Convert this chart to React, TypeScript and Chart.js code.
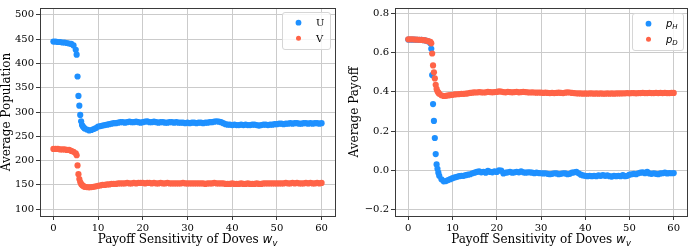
import React, { useEffect, useRef } from "react";
import { Chart, registerables } from "chart.js";

Chart.register(...registerables);

// Payoff sensitivity of doves (x values shared by both panels)
const wv = [
  0, 0.5, 1, 1.5, 2, 2.5, 3, 3.5, 4, 4.5,
  5, 5.2, 5.4, 5.6, 5.8, 6, 6.2, 6.4, 6.6, 6.8, 7,
  7.5, 8, 8.5, 9, 9.5, 10, 10.5, 11, 11.5, 12,
  12.5, 13, 13.5, 14, 14.5, 15, 15.5, 16, 16.5, 17,
  17.5, 18, 18.5, 19, 19.5, 20, 20.5, 21, 21.5, 22,
  22.5, 23, 23.5, 24, 24.5, 25, 25.5, 26, 26.5, 27,
  27.5, 28, 28.5, 29, 29.5, 30, 30.5, 31, 31.5, 32,
  32.5, 33, 33.5, 34, 34.5, 35, 35.5, 36, 36.5, 37,
  37.5, 38, 38.5, 39, 39.5, 40, 40.5, 41, 41.5, 42,
  42.5, 43, 43.5, 44, 44.5, 45, 45.5, 46, 46.5, 47,
  47.5, 48, 48.5, 49, 49.5, 50, 50.5, 51, 51.5, 52,
  52.5, 53, 53.5, 54, 54.5, 55, 55.5, 56, 56.5, 57,
  57.5, 58, 58.5, 59, 59.5, 60,
];

// Average population of U
const popU = [
  445, 445, 444, 444, 443, 443, 442, 441, 440, 437,
  428, 418, 373, 333, 313, 294, 281, 273, 270, 268, 266,
  264, 262, 263, 265, 267, 270, 271, 272, 273, 274,
  275, 276, 277, 277, 278, 279, 279, 278, 279, 280,
  279, 279, 280, 279, 278, 279, 280, 281, 279, 279,
  280, 279, 278, 279, 279, 278, 278, 279, 279, 278,
  279, 278, 278, 278, 277, 278, 277, 278, 278, 277,
  278, 278, 277, 278, 278, 279, 279, 280, 281, 280,
  279, 277, 275, 274, 274, 273, 274, 273, 273, 274,
  273, 274, 273, 273, 274, 274, 273, 272, 273, 274,
  274, 273, 274, 274, 275, 275, 276, 276, 275, 276,
  276, 277, 276, 277, 277, 276, 276, 277, 277, 276,
  277, 276, 277, 277, 276, 277,
];

// Average population of V
const popV = [
  224, 224, 224, 223, 223, 223, 222, 222, 220, 218,
  215, 211, 190, 172, 162, 156, 152, 150, 148, 147, 146,
  145.5, 145, 145.5, 146, 147, 148, 149, 150, 150, 151,
  151, 152, 152, 152, 153, 153, 153, 153, 154, 153,
  153, 154, 153, 154, 154, 154, 153, 154, 154, 153,
  154, 153, 153, 154, 153, 153, 154, 153, 153, 153,
  153, 153, 153, 154, 153, 153, 153, 153, 153, 153,
  153, 153, 153, 152, 153, 153, 153, 154, 153, 153,
  153, 153, 152, 152, 152, 153, 152, 152, 152, 153,
  152, 152, 153, 152, 152, 152, 153, 152, 152, 153,
  153, 153, 153, 153, 153, 153, 153, 153, 153, 154,
  153, 153, 154, 153, 154, 153, 153, 153, 154, 153,
  154, 153, 153, 154, 153, 154,
];

// Average payoff of hawks
const payH = [
  0.667, 0.667, 0.667, 0.667, 0.666, 0.666, 0.665, 0.664, 0.662, 0.658,
  0.648, 0.62, 0.486, 0.338, 0.252, 0.165, 0.083, 0.03, 0.008, -0.012, -0.028,
  -0.046, -0.056, -0.055, -0.05, -0.045, -0.04, -0.036, -0.033, -0.03, -0.028,
  -0.028, -0.025, -0.022, -0.02, -0.015, -0.012, -0.008, -0.005, -0.01, -0.008,
  -0.012, -0.003, -0.008, -0.01, -0.005, -0.008, 0.0, -0.002, -0.016, -0.012,
  -0.01, -0.008, -0.012, -0.01, -0.008, -0.01, -0.005, -0.01, -0.012, -0.01,
  -0.01, -0.012, -0.015, -0.012, -0.014, -0.015, -0.016, -0.015, -0.018, -0.02,
  -0.018, -0.015, -0.016, -0.02, -0.018, -0.015, -0.016, -0.02, -0.018, -0.012,
  -0.01, -0.008, -0.015, -0.022, -0.026, -0.028, -0.03, -0.028, -0.03, -0.028,
  -0.03, -0.026, -0.028, -0.025, -0.028, -0.026, -0.03, -0.032, -0.028, -0.03,
  -0.028, -0.03, -0.025, -0.03, -0.028, -0.022, -0.02, -0.018, -0.02, -0.015,
  -0.012, -0.01, -0.015, -0.008, -0.016, -0.018, -0.015, -0.018, -0.02, -0.016,
  -0.015, -0.012, -0.016, -0.014, -0.015, -0.014,
];

// Average payoff of doves
const payD = [
  0.668, 0.668, 0.668, 0.667, 0.667, 0.666, 0.665, 0.664, 0.662, 0.659,
  0.655, 0.648, 0.596, 0.535, 0.5, 0.469, 0.436, 0.415, 0.403, 0.396, 0.39,
  0.383, 0.379, 0.38, 0.382, 0.384, 0.385, 0.387, 0.388, 0.389, 0.39,
  0.39, 0.391, 0.393, 0.395, 0.396, 0.398, 0.397, 0.399, 0.398, 0.397,
  0.398, 0.4, 0.399, 0.398, 0.399, 0.4, 0.403, 0.401, 0.399, 0.398,
  0.4, 0.399, 0.398, 0.399, 0.4, 0.398, 0.399, 0.4, 0.399, 0.398,
  0.397, 0.398, 0.397, 0.396, 0.397, 0.396, 0.395, 0.396, 0.395, 0.394,
  0.395, 0.394, 0.395, 0.396, 0.395, 0.394, 0.396, 0.398, 0.397, 0.395,
  0.394, 0.393, 0.392, 0.392, 0.391, 0.392, 0.391, 0.392, 0.392, 0.391,
  0.392, 0.391, 0.392, 0.391, 0.391, 0.392, 0.391, 0.392, 0.391, 0.392,
  0.392, 0.392, 0.393, 0.393, 0.394, 0.393, 0.394, 0.394, 0.393, 0.394,
  0.394, 0.395, 0.394, 0.394, 0.395, 0.394, 0.394, 0.395, 0.394, 0.395,
  0.394, 0.395, 0.394, 0.394, 0.395, 0.395,
];

const wvTicks = [0, 10, 20, 30, 40, 50, 60];
const popTicks = [100, 150, 200, 250, 300, 350, 400, 450, 500];
const payTicks = [-0.2, 0, 0.2, 0.4, 0.6, 0.8];

const BLUE = "#1e90ff";
const ORANGE = "#ff6347";
const GRID = "#cbcbcb";
const AXIS = "#3a3a3a";
const SERIF = "'DejaVu Serif', serif";
const MATH = "'DejaVu Sans', sans-serif";

type Entry = { text: string; sub?: string; color: string; radius: number };

// Draws plain serif text followed by an italic symbol with an optional subscript.
function drawRich(
  ctx: CanvasRenderingContext2D,
  plain: string,
  ital: string,
  sub: string,
  x: number,
  y: number,
  size: number,
  align: "left" | "center"
) {
  const fPlain = `${size}px ${SERIF}`;
  const fItal = `italic ${size}px ${MATH}`;
  const fSub = `italic ${size * 0.7}px ${MATH}`;
  ctx.font = fPlain;
  const w1 = plain ? ctx.measureText(plain).width : 0;
  ctx.font = fItal;
  const w2 = ital ? ctx.measureText(ital).width : 0;
  ctx.font = fSub;
  const w3 = sub ? ctx.measureText(sub).width : 0;
  let cx = align === "center" ? x - (w1 + w2 + w3) / 2 : x;
  ctx.textAlign = "left";
  ctx.textBaseline = "alphabetic";
  ctx.fillStyle = "#000";
  if (plain) {
    ctx.font = fPlain;
    ctx.fillText(plain, cx, y);
    cx += w1;
  }
  if (ital) {
    ctx.font = fItal;
    ctx.fillText(ital, cx, y);
    cx += w2;
  }
  if (sub) {
    ctx.font = fSub;
    ctx.fillText(sub, cx, y + size * 0.22);
  }
}

type PanelSpec = {
  values: number[][];
  entries: Entry[];
  orders: number[];
  yMin: number;
  yMax: number;
  yTicks: number[];
  yFmt: (v: number) => string;
  yTitle: string;
  yTitlePad: number;
  yWidth: number;
  padRight: number;
  legend: { w: number; h: number; right: number; top: number };
};

function makePanel(canvas: HTMLCanvasElement, p: PanelSpec) {
  const decor = {
    id: "decor",
    afterDraw(chart: any) {
      const { ctx, chartArea: a } = chart;
      ctx.save();
      // axes frame
      ctx.strokeStyle = AXIS;
      ctx.lineWidth = 1;
      ctx.strokeRect(
        Math.round(a.left) + 0.5,
        Math.round(a.top) + 0.5,
        Math.round(a.right - a.left),
        Math.round(a.bottom - a.top)
      );
      // x axis title
      drawRich(ctx, "Payoff Sensitivity of Doves ", "w", "v", (a.left + a.right) / 2, 243, 12, "center");
      // legend
      const L = p.legend;
      const bx = a.right - L.right - L.w;
      const by = a.top + L.top;
      ctx.beginPath();
      ctx.roundRect(bx + 0.5, by + 0.5, L.w, L.h, 2.5);
      ctx.fillStyle = "rgba(255,255,255,0.8)";
      ctx.fill();
      ctx.strokeStyle = "#d6d6d6";
      ctx.stroke();
      p.entries.forEach((e, i) => {
        const cy = by + 10.7 + i * 15.5;
        ctx.beginPath();
        ctx.arc(bx + 16.5, cy, e.radius, 0, Math.PI * 2);
        ctx.fillStyle = e.color;
        ctx.fill();
        if (e.sub) {
          drawRich(ctx, "", e.text, e.sub, bx + 34, cy + 3.5, 10, "left");
        } else {
          ctx.font = `10px ${SERIF}`;
          ctx.fillStyle = "#000";
          ctx.textAlign = "left";
          ctx.textBaseline = "alphabetic";
          ctx.fillText(e.text, bx + 34, cy + 3.6);
        }
      });
      ctx.restore();
    },
  };

  return new Chart(canvas, {
    type: "scatter",
    data: {
      datasets: p.values.map((vals, k) => ({
        label: p.entries[k].text + (p.entries[k].sub || ""),
        data: wv.map((x, i) => ({ x, y: vals[i] })),
        backgroundColor: p.entries[k].color,
        borderWidth: 0,
        pointRadius: 3.1,
        order: p.orders[k],
      })),
    },
    options: {
      responsive: false,
      animation: false,
      events: [],
      layout: { padding: { left: 0, right: p.padRight, top: 1, bottom: 0 } },
      plugins: { legend: { display: false }, tooltip: { enabled: false } },
      scales: {
        x: {
          type: "linear",
          min: -3,
          max: 63,
          afterBuildTicks: (s: any) => {
            s.ticks = wvTicks.map((v) => ({ value: v }));
          },
          afterFit: (s: any) => {
            s.height = 31;
          },
          grid: { color: GRID, lineWidth: 1, tickLength: 4, tickColor: AXIS },
          border: { display: false },
          ticks: {
            font: { family: SERIF, size: 10 },
            color: "#000",
            padding: 2,
            maxRotation: 0,
            autoSkip: false,
            callback: (v: any) => String(v),
          },
        },
        y: {
          type: "linear",
          min: p.yMin,
          max: p.yMax,
          afterBuildTicks: (s: any) => {
            s.ticks = p.yTicks.map((v) => ({ value: v }));
          },
          afterFit: (s: any) => {
            s.width = p.yWidth;
          },
          grid: { color: GRID, lineWidth: 1, tickLength: 4, tickColor: AXIS },
          border: { display: false },
          ticks: {
            font: { family: SERIF, size: 10 },
            color: "#000",
            padding: 2,
            autoSkip: false,
            callback: (v: any) => p.yFmt(Number(v)),
          },
          title: {
            display: true,
            text: p.yTitle,
            font: { family: SERIF, size: 12 },
            color: "#000",
            padding: { top: p.yTitlePad, bottom: 0 },
          },
        },
      },
    },
    plugins: [decor],
  } as any);
}

export default function App() {
  const leftRef = useRef<HTMLCanvasElement>(null);
  const rightRef = useRef<HTMLCanvasElement>(null);

  useEffect(() => {
    const left = makePanel(leftRef.current!, {
      values: [popU, popV],
      entries: [
        { text: "U", color: BLUE, radius: 2.9 },
        { text: "V", color: ORANGE, radius: 2.5 },
      ],
      orders: [1, 0],
      yMin: 86,
      yMax: 514,
      yTicks: popTicks,
      yFmt: (v) => String(v),
      yTitle: "Average Population",
      yTitlePad: 0,
      yWidth: 40,
      padRight: 5,
      legend: { w: 48, h: 37, right: 5, top: 4 },
    });
    const right = makePanel(rightRef.current!, {
      values: [payH, payD],
      entries: [
        { text: "p", sub: "H", color: BLUE, radius: 2.9 },
        { text: "p", sub: "D", color: ORANGE, radius: 2.5 },
      ],
      orders: [1, 0],
      yMin: -0.233,
      yMax: 0.828,
      yTicks: payTicks,
      yFmt: (v) => v.toFixed(1).replace("-", "\u2212"),
      yTitle: "Average Payoff",
      yTitlePad: 8,
      yWidth: 55,
      padRight: 3,
      legend: { w: 51, h: 37, right: 4, top: 5 },
    });
    return () => {
      left.destroy();
      right.destroy();
    };
  }, []);

  return (
    <div style={{ position: "fixed", left: 0, top: 0, width: 691, height: 247, background: "#fff" }}>
      <canvas ref={leftRef} width={340} height={247} style={{ position: "absolute", left: 0, top: 0 }} />
      <canvas ref={rightRef} width={351} height={247} style={{ position: "absolute", left: 340, top: 0 }} />
    </div>
  );
}
